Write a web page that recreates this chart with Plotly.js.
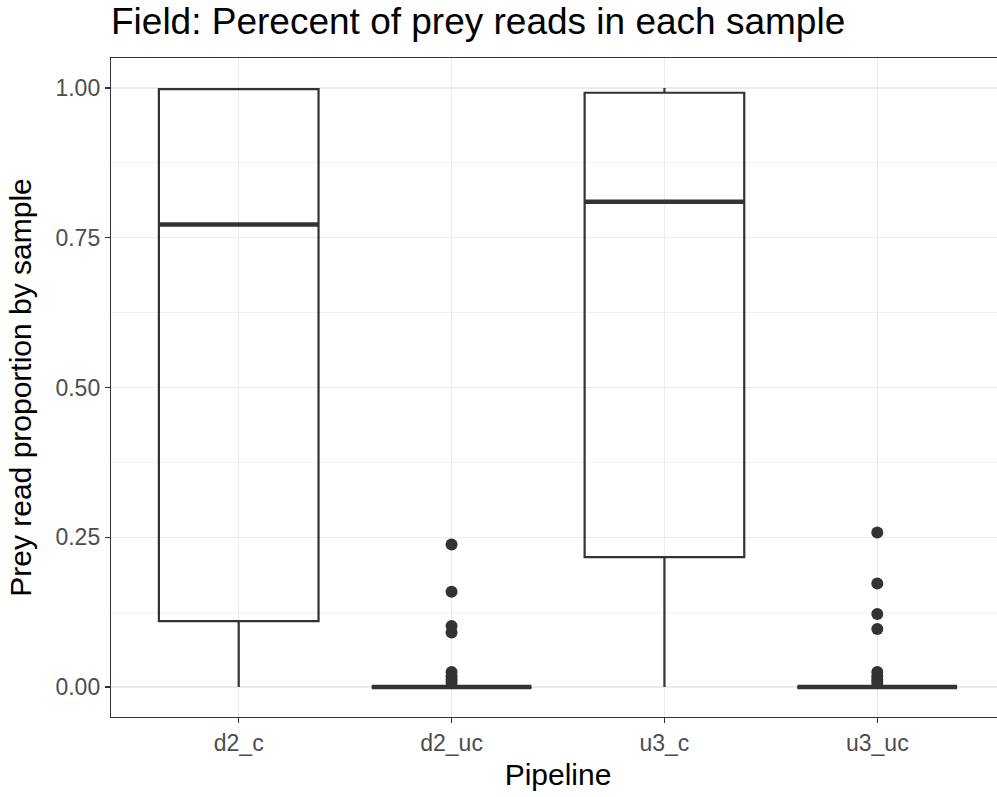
<!DOCTYPE html>
<html>
<head>
<meta charset="utf-8">
<script src="https://cdn.plot.ly/plotly-3.0.1.min.js"></script>
<style>
html,body{margin:0;padding:0;overflow:hidden;background:#fff;}
#chart{width:1010px;height:797px;}
</style>
</head>
<body>
<div id="chart"></div>
<script>
// Data
const categories = ["d2_c", "d2_uc", "u3_c", "u3_uc"];
const lowerWhisker = [0, 0, 0, 0];
const q1Values = [0.11, 0, 0.217, 0];
const medianValues = [0.772, 0, 0.81, 0];
const q3Values = [0.998, 0, 0.992, 0];
const upperWhisker = [1.0, 0, 1.0, 0];
const outlierD2uc = [0.238, 0.159, 0.102, 0.091, 0.025, 0.018, 0.012, 0.007];
const outlierU3uc = [0.258, 0.173, 0.122, 0.097, 0.025, 0.018, 0.012, 0.007];
const yTicks = [0, 0.25, 0.5, 0.75, 1.0];
const yTickText = ["0.00", "0.25", "0.50", "0.75", "1.00"];

const dark = "#333333";
const font = "'Liberation Sans', Arial, Helvetica, sans-serif";

const boxTrace = {
  type: "box",
  x: categories,
  q1: q1Values,
  median: medianValues,
  q3: q3Values,
  lowerfence: lowerWhisker,
  upperfence: upperWhisker,
  width: 0.75,
  whiskerwidth: 0,
  fillcolor: "rgba(255,255,255,0)",
  line: {color: dark, width: 2.2},
  boxpoints: false,
  hoverinfo: "skip",
  showlegend: false
};

// thick median lines (ggplot fatten), drawn as zero-height boxes
const medianTrace = {
  type: "box",
  x: categories,
  q1: medianValues,
  median: medianValues,
  q3: medianValues,
  lowerfence: medianValues,
  upperfence: medianValues,
  width: 0.75,
  whiskerwidth: 0,
  fillcolor: "rgba(255,255,255,0)",
  line: {color: dark, width: 4.5},
  boxpoints: false,
  hoverinfo: "skip",
  showlegend: false
};

const outX = outlierD2uc.map(() => "d2_uc").concat(outlierU3uc.map(() => "u3_uc"));
const outY = outlierD2uc.concat(outlierU3uc);
const outlierTrace = {
  type: "scatter",
  mode: "markers",
  x: outX,
  y: outY,
  marker: {color: dark, size: 12},
  showlegend: false,
  hoverinfo: "skip"
};

const layout = {
  width: 1010,
  height: 797,
  margin: {l: 111, r: 5, t: 58, b: 80},
  paper_bgcolor: "#ffffff",
  plot_bgcolor: "#ffffff",
  boxmode: "overlay",
  showlegend: false,
  title: {
    text: "Field: Perecent of prey reads in each sample",
    font: {family: font, size: 37, color: "#000000"},
    x: 0, xref: "paper", xanchor: "left",
    y: 0.973, yref: "container", yanchor: "middle",
    pad: {t: 0, b: 0, l: 0}
  },
  xaxis: {
    type: "category",
    categoryorder: "array",
    categoryarray: categories,
    range: [-0.6, 3.6],
    showgrid: true,
    gridcolor: "#EBEBEB",
    gridwidth: 1.2,
    zeroline: false,
    showline: true,
    linecolor: dark,
    linewidth: 1.2,
    mirror: true,
    ticks: "outside",
    ticklen: 5,
    tickwidth: 1.2,
    tickcolor: dark,
    tickfont: {family: font, size: 23, color: "#4D4D4D"},
    title: {text: "Pipeline", font: {family: font, size: 30, color: "#000000"}, standoff: 9}
  },
  yaxis: {
    range: [-0.05, 1.05],
    tickvals: yTicks,
    ticktext: yTickText,
    showgrid: true,
    gridcolor: "#EBEBEB",
    gridwidth: 1.2,
    minor: {dtick: 0.125, tick0: 0.125, showgrid: true, gridcolor: "#F2F2F2", gridwidth: 1, ticks: ""},
    zeroline: false,
    showline: true,
    linecolor: dark,
    linewidth: 1.2,
    mirror: true,
    ticks: "outside",
    ticklen: 5,
    tickwidth: 1.2,
    tickcolor: dark,
    tickfont: {family: font, size: 23, color: "#4D4D4D"},
    title: {text: "Prey read proportion by sample", font: {family: font, size: 30, color: "#000000"}, standoff: 15}
  }
};

Plotly.newPlot("chart", [boxTrace, medianTrace, outlierTrace], layout, {displayModeBar: false, staticPlot: true});
</script>
</body>
</html>
